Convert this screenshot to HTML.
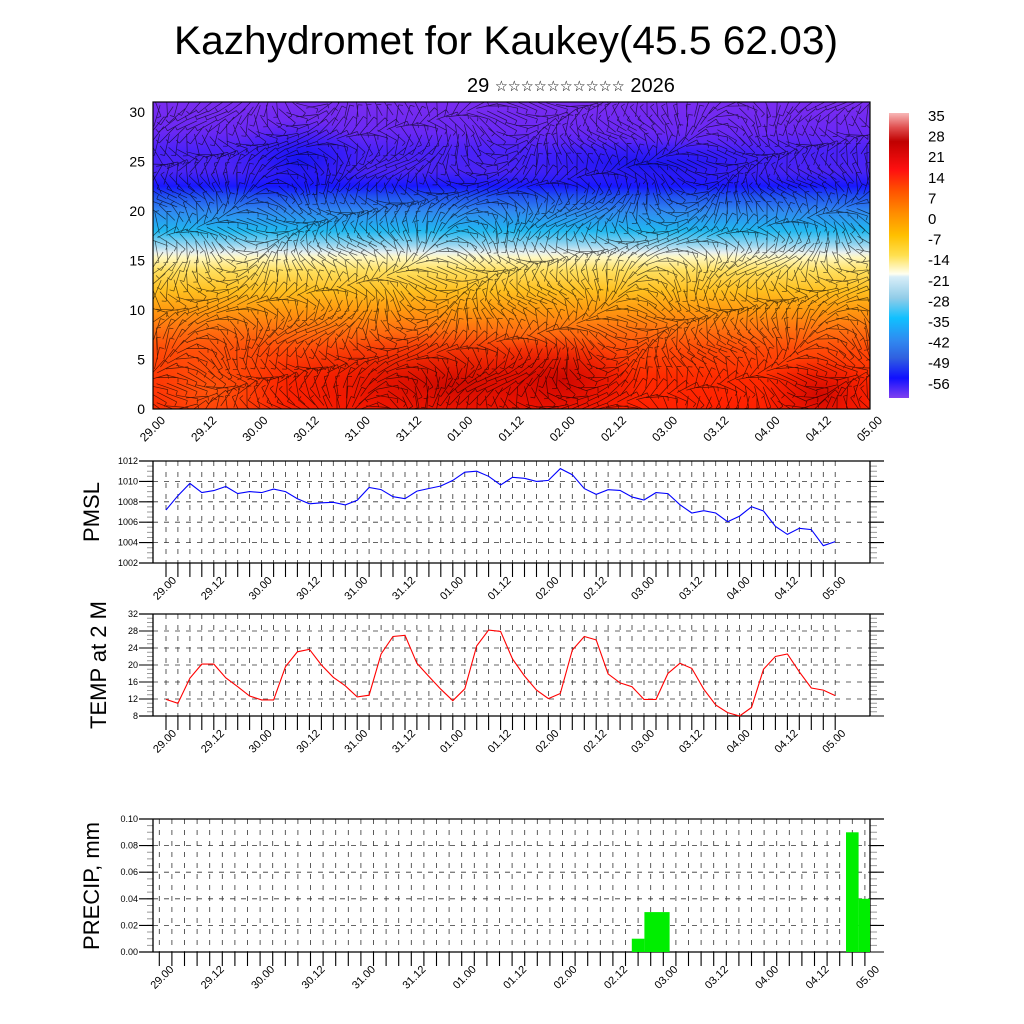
<!DOCTYPE html>
<html><head><meta charset="utf-8"><style>
html,body{margin:0;padding:0;background:#fff;}
svg{display:block;font-family:"Liberation Sans",sans-serif;}
</style></head><body>
<svg id="chart" width="1024" height="1024" viewBox="0 0 1024 1024" xmlns="http://www.w3.org/2000/svg">
<defs>
<linearGradient id="fieldGrad" x1="0" y1="0" x2="0" y2="1">
<stop offset="0" stop-color="#7a2cf0"/><stop offset="0.097" stop-color="#6a28f4"/>
<stop offset="0.16" stop-color="#4a22f8"/><stop offset="0.226" stop-color="#4a24f4"/>
<stop offset="0.274" stop-color="#1818ff"/><stop offset="0.306" stop-color="#2050f0"/>
<stop offset="0.355" stop-color="#3088f0"/><stop offset="0.42" stop-color="#20b8f0"/>
<stop offset="0.468" stop-color="#a0d8f0"/><stop offset="0.49" stop-color="#e8f0f0"/>
<stop offset="0.506" stop-color="#fff8c0"/><stop offset="0.548" stop-color="#ffe060"/>
<stop offset="0.613" stop-color="#ffc020"/><stop offset="0.677" stop-color="#ff9a10"/>
<stop offset="0.742" stop-color="#ff7010"/><stop offset="0.806" stop-color="#ff4a08"/>
<stop offset="0.9" stop-color="#ff2a00"/><stop offset="1" stop-color="#ff2000"/>
</linearGradient>
<linearGradient id="cbGrad" x1="0" y1="0" x2="0" y2="1">
<stop offset="0" stop-color="#f8b8b8"/><stop offset="0.05" stop-color="#e05050"/>
<stop offset="0.1" stop-color="#c00000"/><stop offset="0.2" stop-color="#ff1010"/>
<stop offset="0.27" stop-color="#ff5000"/><stop offset="0.35" stop-color="#ff8c00"/>
<stop offset="0.43" stop-color="#ffc000"/><stop offset="0.5" stop-color="#ffe050"/>
<stop offset="0.565" stop-color="#fffff0"/><stop offset="0.575" stop-color="#d8eef8"/>
<stop offset="0.65" stop-color="#90cce8"/><stop offset="0.72" stop-color="#10c0ff"/>
<stop offset="0.8" stop-color="#3088f0"/><stop offset="0.86" stop-color="#3060e0"/>
<stop offset="0.93" stop-color="#1010ff"/><stop offset="1" stop-color="#8040f0"/>
</linearGradient>
<radialGradient id="darkRed"><stop offset="0" stop-color="#c00000" stop-opacity="0.75"/><stop offset="1" stop-color="#e00000" stop-opacity="0"/></radialGradient>
<radialGradient id="orangeBlob"><stop offset="0" stop-color="#ff6a10" stop-opacity="0.7"/><stop offset="1" stop-color="#ff6a10" stop-opacity="0"/></radialGradient>
<radialGradient id="darkBlue"><stop offset="0" stop-color="#0a10f0" stop-opacity="0.8"/><stop offset="1" stop-color="#1010ff" stop-opacity="0"/></radialGradient>
<clipPath id="fieldClip"><rect x="153" y="102" width="717" height="307"/></clipPath>
<clipPath id="precipClip"><rect x="153" y="819" width="717" height="133"/></clipPath>
</defs>
<text x="506" y="54" font-size="40" text-anchor="middle" textLength="664" lengthAdjust="spacingAndGlyphs">Kazhydromet for Kaukey(45.5 62.03)</text>
<text x="467" y="92" font-size="20" font-family="Liberation Sans, DejaVu Sans, sans-serif">29 <tspan font-size="14.5" font-family="DejaVu Sans, sans-serif" dy="-1">☆☆☆☆☆☆☆☆☆☆</tspan><tspan dy="1"> 2026</tspan></text>
<g id="field" clip-path="url(#fieldClip)">
<rect x="153" y="102" width="717" height="307" fill="url(#fieldGrad)"/>
<ellipse cx="210" cy="390" rx="80" ry="60" fill="url(#orangeBlob)"/>
<ellipse cx="450" cy="385" rx="200" ry="55" fill="url(#darkRed)"/>
<ellipse cx="560" cy="380" rx="80" ry="45" fill="url(#darkRed)"/>
<ellipse cx="820" cy="395" rx="60" ry="40" fill="url(#darkRed)"/>
<ellipse cx="300" cy="160" rx="70" ry="40" fill="url(#darkBlue)"/>
<ellipse cx="650" cy="165" rx="150" ry="25" fill="url(#darkBlue)"/>
<g id="barbs"></g>
</g>
<rect x="153" y="102" width="717" height="307" fill="none" stroke="#000" stroke-width="1.2"/>
<g id="fieldAxes"></g>
<rect x="889" y="113" width="20" height="285" fill="url(#cbGrad)"/>
<g id="cbLabels"></g>
<g id="pmsl"></g>
<g id="temp"></g>
<g id="precip"></g>
<text font-size="22" text-anchor="middle" transform="translate(99,512) rotate(-90)">PMSL</text>
<text font-size="22" text-anchor="middle" transform="translate(106,665) rotate(-90)">TEMP at 2 M</text>
<text font-size="22" text-anchor="middle" transform="translate(99,886) rotate(-90)">PRECIP, mm</text>
</svg>
<script>
const NS="http://www.w3.org/2000/svg";
const dateLabels=["29.00","29.12","30.00","30.12","31.00","31.12","01.00","01.12","02.00","02.12","03.00","03.12","04.00","04.12","05.00"];
const pmslValues=[1007.2,1008.6,1009.8,1008.9,1009.1,1009.5,1008.8,1009.0,1008.9,1009.25,1009.0,1008.3,1007.8,1007.9,1007.95,1007.7,1008.15,1009.4,1009.2,1008.5,1008.3,1009.05,1009.3,1009.55,1010.1,1010.9,1011.0,1010.5,1009.65,1010.4,1010.3,1010.0,1010.1,1011.25,1010.66,1009.29,1008.73,1009.19,1009.12,1008.47,1008.18,1008.9,1008.8,1007.72,1006.9,1007.13,1006.9,1006.05,1006.6,1007.52,1007.1,1005.6,1004.8,1005.4,1005.27,1003.7,1004.1];
const pmslTicks=[1002,1004,1006,1008,1010,1012];
const tempValues=[11.9,11.0,16.9,20.2,20.2,17.0,14.9,12.7,11.8,11.8,19.6,23.1,23.7,20.0,17.1,15.1,12.5,12.9,22.6,26.7,27.0,20.4,17.3,14.3,11.6,14.4,24.5,28.2,27.9,21.4,17.4,14.1,12.1,13.3,23.5,26.7,25.9,17.9,15.8,14.9,11.9,11.9,18.0,20.4,19.2,14.3,10.6,8.8,8.0,10.0,19.0,22.0,22.6,18.4,14.6,14.1,12.8];
const tempTicks=[8,12,16,20,24,28,32];
const precipIdx=[38,39,40,55,56];
const precipVals=[0.01,0.03,0.03,0.09,0.04];
const precipTicks=[0.00,0.02,0.04,0.06,0.08,0.10];
const fieldYTicks=[0,5,10,15,20,25,30];
const cbLabels=["35","28","21","14","7","0","-7","-14","-21","-28","-35","-42","-49","-56"];

function mk(tag,attrs,parent){const e=document.createElementNS(NS,tag);for(const k in attrs)e.setAttribute(k,attrs[k]);if(parent)parent.appendChild(e);return e;}

(function(){
 const g=document.getElementById('fieldAxes');
 const fy=v=>409-(v/31)*307;
 fieldYTicks.forEach(v=>{
  const t=mk('text',{x:145,y:fy(v)+5,'font-size':14,'text-anchor':'end'},g);
  
  
  t.textContent=v;
 });
 dateLabels.forEach((s,i)=>{
  const x=153+i*717/14;
  const t=mk('text',{'font-size':12,'text-anchor':'end',transform:`translate(${x+13},${421}) rotate(-45)`},g);
  
  
  t.textContent=s;
 });
 const b=document.getElementById('barbs');
 let d="";
 for(let j=0;j<32;j++){for(let i=0;i<72;i++){
  const x=157+i*10,y=106+j*9.7;
  const a=Math.sin(i*0.21+j*0.47)*1.6+Math.cos(i*0.09-j*0.33)*1.2;
  const L=11;
  const dx=Math.cos(a)*L,dy=Math.sin(a)*L;
  d+=`M${(x-dx).toFixed(1)} ${(y-dy).toFixed(1)}L${(x+dx).toFixed(1)} ${(y+dy).toFixed(1)}`;
  d+=`M${(x+dx).toFixed(1)} ${(y+dy).toFixed(1)}l${(-dy*0.4).toFixed(1)} ${(dx*0.4).toFixed(1)}`;
 }}
 const p=mk('path',{d:d,stroke:'#000','stroke-width':0.7,'stroke-opacity':0.65,fill:'none'},b);
 
 
 const cg=document.getElementById('cbLabels');
 cbLabels.forEach((s,i)=>{
  const t=mk('text',{x:928,y:121+i*20.6,'font-size':15},cg);
  
  
  t.textContent=s;
 });
})();

function panel(id,top,bot,x0,step,ymin,ymax,ticks,minorStep,fmt,labelOff){
 const g=document.getElementById(id);
 const L=153,R=870;
 const sy=v=>bot-(v-ymin)/(ymax-ymin)*(bot-top);
 const sx=i=>x0+i*step;
 let gd="";
 for(let i=0;i<57;i++){const x=sx(i);if(x>L&&x<R)gd+=`M${x.toFixed(1)} ${top}V${bot}`;}
 ticks.forEach(v=>{if(v>ymin&&v<ymax)gd+=`M${L} ${sy(v).toFixed(1)}H${R}`;});
 const grid=mk('path',{d:gd,stroke:'#333','stroke-width':0.8,'stroke-dasharray':'5 6',fill:'none'},g);
 
 
 let md="";
 for(let v=ymin;v<=ymax+1e-9;v+=minorStep){const y=sy(v).toFixed(1);md+=`M${L-6} ${y}H${L}M${R} ${y}H${R+7}`;}
 mk('path',{d:md,stroke:'#999','stroke-width':1,fill:'none'},g);
 let Md="";
 ticks.forEach(v=>{const y=sy(v).toFixed(1);Md+=`M${L-14} ${y}H${L}M${R} ${y}H${R+14}`;});
 for(let i=0;i<57;i++){const x=sx(i).toFixed(1);Md+=`M${x} ${bot}V${bot+14}`;}
 mk('path',{d:Md,stroke:'#000','stroke-width':1.1,fill:'none'},g);
 mk('path',{d:`M${L-14} ${top}H${R+14}M${L-14} ${bot}H${R}M${L} ${top}V${bot}M${R} ${top}V${bot}`,stroke:'#000','stroke-width':1.3,fill:'none'},g);
 ticks.forEach(v=>{
  const t=mk('text',{x:L-15,y:sy(v)+3,'font-size':9,'text-anchor':'end'},g);
  
  
  t.textContent=fmt(v);
 });
 dateLabels.forEach((s,k)=>{
  const x=sx(k*4);
  const t=mk('text',{'font-size':11,'text-anchor':'end',transform:`translate(${x+labelOff},${bot+18}) rotate(-45)`},g);
  
  
  t.textContent=s;
 });
 return {g,sx,sy};
}

(function(){
 const P=panel('pmsl',461,563,166,11.95,1002,1012,pmslTicks,0.5,v=>v,11);
 const pl=mk('polyline',{points:pmslValues.map((v,i)=>P.sx(i).toFixed(1)+','+P.sy(v).toFixed(1)).join(' '),fill:'none',stroke:'#0000ff','stroke-width':1.1},P.g);
 
 
 const T=panel('temp',614,716,166,11.95,8,32,tempTicks,1,v=>v,11);
 const tl=mk('polyline',{points:tempValues.map((v,i)=>T.sx(i).toFixed(1)+','+T.sy(v).toFixed(1)).join(' '),fill:'none',stroke:'#ff0000','stroke-width':1.1},T.g);
 
 
 const Q=panel('precip',819,952,159.3,12.6,0,0.1,precipTicks,0.005,v=>v.toFixed(2),15);
 const bg=mk('g',{'clip-path':'url(#precipClip)'},Q.g);
 precipIdx.forEach((idx,k)=>{
  const v=precipVals[k];
  const r=mk('rect',{x:(Q.sx(idx)-6.3).toFixed(1),y:Q.sy(v).toFixed(1),width:12.6,height:(Q.sy(0)-Q.sy(v)).toFixed(1),fill:'#00ee00'},bg);
  
  
 });
})();
</script>
</body></html>
